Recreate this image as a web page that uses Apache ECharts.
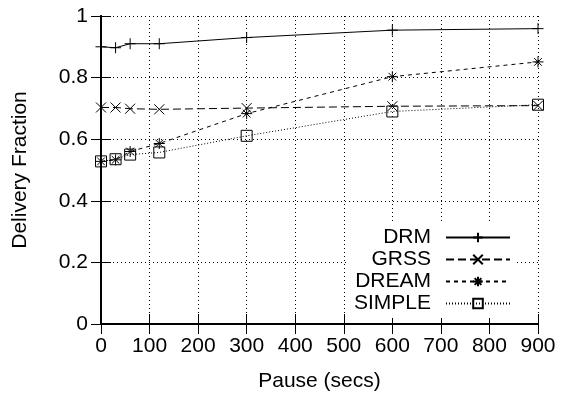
<!DOCTYPE html>
<html>
<head>
<meta charset="utf-8">
<script src="https://cdn.jsdelivr.net/npm/echarts@6/dist/echarts.min.js"></script>
<style>
  html, body { margin: 0; padding: 0; background: #fff; }
  #chart { width: 561px; height: 397px; }
</style>
</head>
<body>
<div id="chart"></div>
<script>
// pause times (secs)
const pauseTimes = [0, 30, 60, 120, 300, 600, 900];

// delivery fraction per protocol
const drmValues = [0.900, 0.897, 0.910, 0.910, 0.930, 0.954, 0.959];
const grssValues = [0.703, 0.703, 0.699, 0.697, 0.701, 0.707, 0.709];
const dreamValues = [0.528, 0.533, 0.560, 0.586, 0.683, 0.803, 0.851];
const simpleValues = [0.528, 0.535, 0.550, 0.557, 0.611, 0.690, 0.712];

const seriesNames = ["DRM", "GRSS", "DREAM", "SIMPLE"];

const fontFamily = "Liberation Sans, Arial, sans-serif";
const fontSize = 21;

// gnuplot style point shapes
const plusSym = "path://M0,5H10M5,0V10";
const crossSym = "path://M0,0L10,10M10,0L0,10";
const starSym = "path://M0,5H10M5,0V10M1.5,1.5L8.5,8.5M8.5,1.5L1.5,8.5";
const boxSym = "path://M0,0H10V10H0Z";

function pairs(values) {
  return pauseTimes.map((t, i) => [t, values[i]]);
}

function makeSeries(name, values, symbol, size, dash) {
  return {
    name: name,
    type: "line",
    data: pairs(values),
    symbol: symbol,
    symbolSize: size,
    showAllSymbol: true,
    clip: false,
    lineStyle: { color: "#000", width: 1, type: dash },
    itemStyle: { color: "none", borderColor: "#000", borderWidth: 1 },
    emphasis: { disabled: true }
  };
}

const frameLine = { color: "#000", width: 2 };
const tickStyle = { show: true, inside: true, length: 10, lineStyle: { color: "#000", width: 1 } };
const gridDots = { show: true, lineStyle: { color: "#000", width: 1, type: [1, 3] } };

const chart = echarts.init(document.getElementById("chart"));

const option = {
  animation: false,
  backgroundColor: "#fff",
  textStyle: { fontFamily: fontFamily },
  grid: { left: 101, right: 23, top: 16, bottom: 73 },
  legend: {
    orient: "vertical",
    right: 46,
    bottom: 79,
    align: "right",
    itemWidth: 64,
    itemHeight: 12,
    itemGap: 1,
    padding: [4, 4, 4, 6],
    backgroundColor: "#fff",
    textStyle: {
      fontSize: fontSize,
      lineHeight: 21,
      color: "#000",
      fontFamily: fontFamily,
      padding: [0, 10, 0, 0]
    },
    data: seriesNames
  },
  xAxis: [
    {
      type: "value",
      min: 0,
      max: 900,
      interval: 100,
      name: "Pause (secs)",
      nameLocation: "middle",
      nameGap: 47,
      nameTextStyle: { fontSize: fontSize, color: "#000" },
      axisLine: { show: true, lineStyle: frameLine },
      axisTick: tickStyle,
      axisLabel: { fontSize: fontSize, color: "#000", margin: 12 },
      splitLine: gridDots
    },
    {
      type: "value",
      position: "top",
      min: 0,
      max: 900,
      interval: 100,
      axisLine: { show: true, lineStyle: frameLine },
      axisTick: tickStyle,
      axisLabel: { show: false },
      splitLine: { show: false }
    }
  ],
  yAxis: [
    {
      type: "value",
      min: 0,
      max: 1,
      interval: 0.2,
      name: "Delivery Fraction",
      nameLocation: "middle",
      nameGap: 70,
      nameTextStyle: { fontSize: fontSize, color: "#000" },
      axisLine: { show: true, lineStyle: frameLine },
      axisTick: tickStyle,
      axisLabel: { fontSize: fontSize, color: "#000", margin: 13 },
      splitLine: gridDots
    },
    {
      type: "value",
      position: "right",
      min: 0,
      max: 1,
      interval: 0.2,
      axisLine: { show: true, lineStyle: frameLine },
      axisTick: tickStyle,
      axisLabel: { show: false },
      splitLine: { show: false }
    }
  ],
  series: [
    makeSeries(seriesNames[0], drmValues, plusSym, 11, "solid"),
    makeSeries(seriesNames[1], grssValues, crossSym, 10, [8, 4]),
    makeSeries(seriesNames[2], dreamValues, starSym, 11, [4, 4]),
    makeSeries(seriesNames[3], simpleValues, boxSym, 11, [1, 2])
  ]
};

chart.setOption(option);
</script>
</body>
</html>
